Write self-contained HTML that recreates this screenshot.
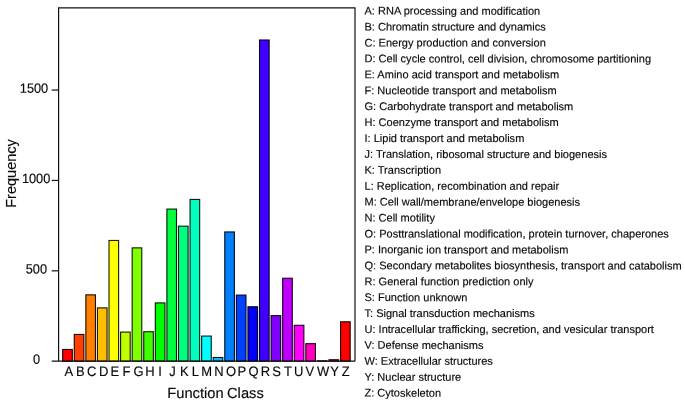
<!DOCTYPE html>
<html><head><meta charset="utf-8"><title>COG Function Classification</title>
<style>html,body{margin:0;padding:0;background:#fff}svg{display:block}text{font-family:"Liberation Sans",sans-serif;fill:#0a0a0a;stroke:#0a0a0a;stroke-width:.15px}.lg text{stroke-width:.15px}.ti{stroke-width:.15px}</style></head><body>
<svg width="685" height="403" viewBox="0 0 685 403">
<rect width="685" height="403" fill="#fff"/>
<rect x="62.70" y="349.45" width="9.60" height="11.75" fill="#FF0000" stroke="#1F0000" stroke-width="1.12"/>
<rect x="74.28" y="334.45" width="9.60" height="26.75" fill="#FF4000" stroke="#1F0800" stroke-width="1.12"/>
<rect x="85.86" y="294.86" width="9.60" height="66.34" fill="#FF8000" stroke="#1F0F00" stroke-width="1.12"/>
<rect x="97.43" y="307.88" width="9.60" height="53.32" fill="#FFBF00" stroke="#1F1700" stroke-width="1.12"/>
<rect x="109.01" y="240.46" width="9.60" height="120.74" fill="#FFFF00" stroke="#1F1F00" stroke-width="1.12"/>
<rect x="120.59" y="332.10" width="9.60" height="29.10" fill="#BFFF00" stroke="#171F00" stroke-width="1.12"/>
<rect x="132.17" y="247.87" width="9.60" height="113.33" fill="#80FF00" stroke="#0F1F00" stroke-width="1.12"/>
<rect x="143.75" y="331.74" width="9.60" height="29.46" fill="#40FF00" stroke="#081F00" stroke-width="1.12"/>
<rect x="155.32" y="302.91" width="9.60" height="58.29" fill="#00FF00" stroke="#001F00" stroke-width="1.12"/>
<rect x="166.90" y="209.10" width="9.60" height="152.10" fill="#00FF40" stroke="#001F08" stroke-width="1.12"/>
<rect x="178.48" y="226.18" width="9.60" height="135.02" fill="#00FF80" stroke="#001F0F" stroke-width="1.12"/>
<rect x="190.06" y="199.43" width="9.60" height="161.77" fill="#00FFBF" stroke="#001F17" stroke-width="1.12"/>
<rect x="201.64" y="336.08" width="9.60" height="25.12" fill="#00FFFF" stroke="#001F1F" stroke-width="1.12"/>
<rect x="213.21" y="357.49" width="9.60" height="3.71" fill="#00BFFF" stroke="#00171F" stroke-width="1.12"/>
<rect x="224.79" y="231.96" width="9.60" height="129.24" fill="#0080FF" stroke="#000F1F" stroke-width="1.12"/>
<rect x="236.37" y="295.10" width="9.60" height="66.10" fill="#0040FF" stroke="#00081F" stroke-width="1.12"/>
<rect x="247.95" y="306.79" width="9.60" height="54.41" fill="#0000FF" stroke="#00001F" stroke-width="1.12"/>
<rect x="259.53" y="40.01" width="9.60" height="321.19" fill="#4000FF" stroke="#08001F" stroke-width="1.12"/>
<rect x="271.10" y="315.65" width="9.60" height="45.55" fill="#8000FF" stroke="#0F001F" stroke-width="1.12"/>
<rect x="282.68" y="278.24" width="9.60" height="82.96" fill="#BF00FF" stroke="#17001F" stroke-width="1.12"/>
<rect x="294.26" y="325.30" width="9.60" height="35.90" fill="#FF00FF" stroke="#1F001F" stroke-width="1.12"/>
<rect x="305.84" y="343.67" width="9.60" height="17.53" fill="#FF00BF" stroke="#1F0017" stroke-width="1.12"/>
<rect x="317.42" y="360.84" width="9.60" height="0.36" fill="#FF0080" stroke="#1F000F" stroke-width="1.12"/>
<rect x="328.99" y="359.75" width="9.60" height="1.45" fill="#FF0040" stroke="#1F0008" stroke-width="1.12"/>
<rect x="340.57" y="321.80" width="9.60" height="39.40" fill="#FF0000" stroke="#1F0000" stroke-width="1.12"/>
<path d="M58.6 361.15 V7.8 H355.0 V361.15" fill="none" stroke="#101010" stroke-width="1.2"/>
<path d="M51.7 361.15 H355.0" fill="none" stroke="#101010" stroke-width="1.2"/>
<path d="M51.7 270.82 H58.6" stroke="#101010" stroke-width="1.2"/>
<path d="M51.7 180.45 H58.6" stroke="#101010" stroke-width="1.2"/>
<path d="M51.7 90.07 H58.6" stroke="#101010" stroke-width="1.2"/>
<text transform="matrix(0.955 .0005 0 1 19.78 92.70)" font-size="13.4">1500</text>
<text transform="matrix(0.955 .0005 0 1 21.88 183.10)" font-size="13.4">1000</text>
<text transform="matrix(0.955 .0005 0 1 25.65 273.40)" font-size="13.4">500</text>
<text transform="matrix(0.955 .0005 0 1 33.08 363.70)" font-size="13.4">0</text>
<text transform="matrix(0.942 .0005 0 1 64.46 376)" font-size="13.8">A</text>
<text transform="matrix(0.942 .0005 0 1 76.02 376)" font-size="13.8">B</text>
<text transform="matrix(0.942 .0005 0 1 86.97 376)" font-size="13.8">C</text>
<text transform="matrix(0.942 .0005 0 1 98.93 376)" font-size="13.8">D</text>
<text transform="matrix(0.942 .0005 0 1 110.56 376)" font-size="13.8">E</text>
<text transform="matrix(0.942 .0005 0 1 122.56 376)" font-size="13.8">F</text>
<text transform="matrix(0.942 .0005 0 1 133.60 376)" font-size="13.8">G</text>
<text transform="matrix(0.942 .0005 0 1 145.15 376)" font-size="13.8">H</text>
<text transform="matrix(0.942 .0005 0 1 158.29 376)" font-size="13.8">I</text>
<text transform="matrix(0.942 .0005 0 1 169.33 376)" font-size="13.8">J</text>
<text transform="matrix(0.942 .0005 0 1 179.90 376)" font-size="13.8">K</text>
<text transform="matrix(0.942 .0005 0 1 191.72 376)" font-size="13.8">L</text>
<text transform="matrix(0.942 .0005 0 1 201.14 376)" font-size="13.8">M</text>
<text transform="matrix(0.942 .0005 0 1 214.15 376)" font-size="13.8">N</text>
<text transform="matrix(0.942 .0005 0 1 226.00 376)" font-size="13.8">O</text>
<text transform="matrix(0.942 .0005 0 1 237.57 376)" font-size="13.8">P</text>
<text transform="matrix(0.942 .0005 0 1 248.60 376)" font-size="13.8">Q</text>
<text transform="matrix(0.942 .0005 0 1 260.77 376)" font-size="13.8">R</text>
<text transform="matrix(0.942 .0005 0 1 272.27 376)" font-size="13.8">S</text>
<text transform="matrix(0.942 .0005 0 1 284.08 376)" font-size="13.8">T</text>
<text transform="matrix(0.942 .0005 0 1 294.11 376)" font-size="13.8">U</text>
<text transform="matrix(0.942 .0005 0 1 305.46 376)" font-size="13.8">V</text>
<text transform="matrix(0.942 .0005 0 1 317.11 376)" font-size="13.8">W</text>
<text transform="matrix(0.942 .0005 0 1 330.36 376)" font-size="13.8">Y</text>
<text transform="matrix(0.942 .0005 0 1 341.83 376)" font-size="13.8">Z</text>
<text class="ti" transform="matrix(1 .0005 0 1 167.3 398)" font-size="14.7" word-spacing="-0.7">Function Class</text>
<text class="ti" transform="matrix(.0005 -1 1 0 15.6 207.8)" font-size="15.4" textLength="68.6" lengthAdjust="spacingAndGlyphs">Frequency</text>
<g class="lg">
<text transform="matrix(1 .0005 0 1 364.5 14.60)" font-size="11.03">A: RNA processing and modification</text>
<text transform="matrix(1 .0005 0 1 364.5 30.52)" font-size="11.03">B: Chromatin structure and dynamics</text>
<text transform="matrix(1 .0005 0 1 364.5 46.43)" font-size="11.03">C: Energy production and conversion</text>
<text transform="matrix(1 .0005 0 1 364.5 62.35)" font-size="11.03">D: Cell cycle control, cell division, chromosome partitioning</text>
<text transform="matrix(1 .0005 0 1 364.5 78.27)" font-size="11.03">E: Amino acid transport and metabolism</text>
<text transform="matrix(1 .0005 0 1 364.5 94.18)" font-size="11.03">F: Nucleotide transport and metabolism</text>
<text transform="matrix(1 .0005 0 1 364.5 110.10)" font-size="11.03">G: Carbohydrate transport and metabolism</text>
<text transform="matrix(1 .0005 0 1 364.5 126.02)" font-size="11.03">H: Coenzyme transport and metabolism</text>
<text transform="matrix(1 .0005 0 1 364.5 141.94)" font-size="11.03">I: Lipid transport and metabolism</text>
<text transform="matrix(1 .0005 0 1 364.5 157.85)" font-size="11.03">J: Translation, ribosomal structure and biogenesis</text>
<text transform="matrix(1 .0005 0 1 364.5 173.77)" font-size="11.03">K: Transcription</text>
<text transform="matrix(1 .0005 0 1 364.5 189.69)" font-size="11.03">L: Replication, recombination and repair</text>
<text transform="matrix(1 .0005 0 1 364.5 205.60)" font-size="11.03">M: Cell wall/membrane/envelope biogenesis</text>
<text transform="matrix(1 .0005 0 1 364.5 221.52)" font-size="11.03">N: Cell motility</text>
<text transform="matrix(1 .0005 0 1 364.5 237.44)" font-size="11.03">O: Posttranslational modification, protein turnover, chaperones</text>
<text transform="matrix(1 .0005 0 1 364.5 253.35)" font-size="11.03">P: Inorganic ion transport and metabolism</text>
<text transform="matrix(1 .0005 0 1 364.5 269.27)" font-size="11.03">Q: Secondary metabolites biosynthesis, transport and catabolism</text>
<text transform="matrix(1 .0005 0 1 364.5 285.19)" font-size="11.03">R: General function prediction only</text>
<text transform="matrix(1 .0005 0 1 364.5 301.11)" font-size="11.03">S: Function unknown</text>
<text transform="matrix(1 .0005 0 1 364.5 317.02)" font-size="11.03">T: Signal transduction mechanisms</text>
<text transform="matrix(1 .0005 0 1 364.5 332.94)" font-size="11.03">U: Intracellular trafficking, secretion, and vesicular transport</text>
<text transform="matrix(1 .0005 0 1 364.5 348.86)" font-size="11.03">V: Defense mechanisms</text>
<text transform="matrix(1 .0005 0 1 364.5 364.77)" font-size="11.03">W: Extracellular structures</text>
<text transform="matrix(1 .0005 0 1 364.5 380.69)" font-size="11.03">Y: Nuclear structure</text>
<text transform="matrix(1 .0005 0 1 364.5 396.61)" font-size="11.03">Z: Cytoskeleton</text>
</g>
</svg></body></html>
